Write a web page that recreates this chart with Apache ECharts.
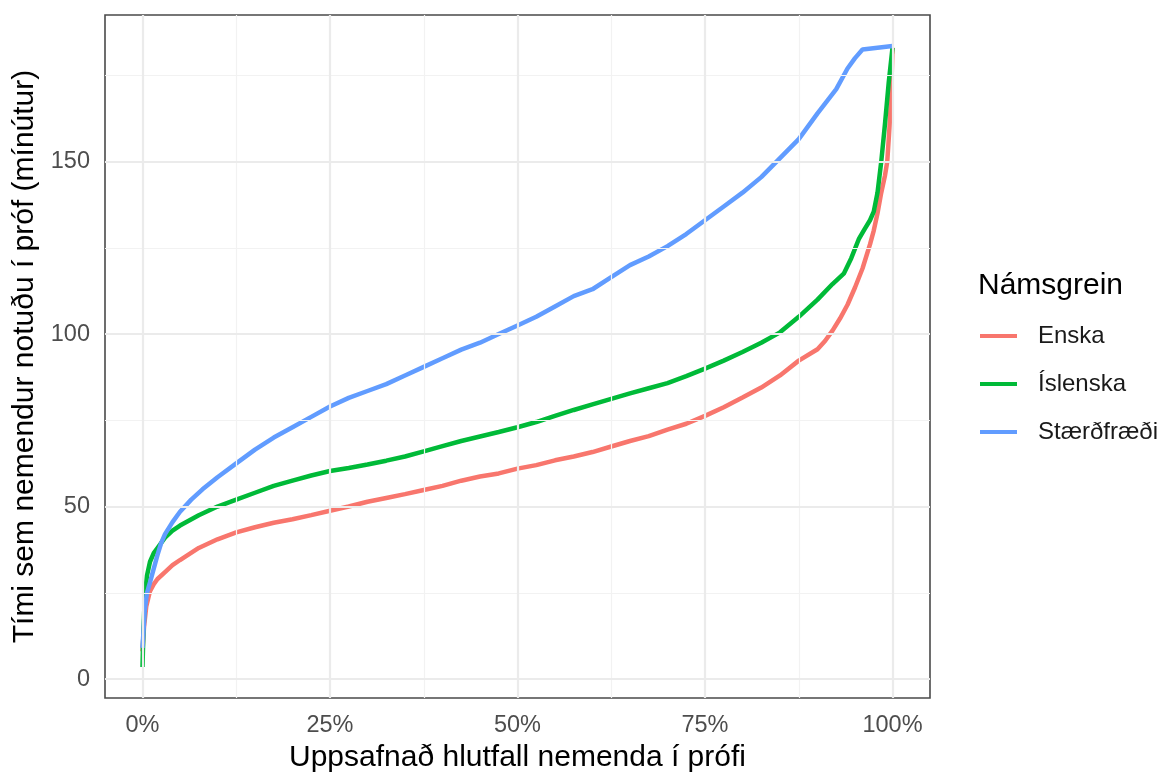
<!DOCTYPE html>
<html>
<head>
<meta charset="utf-8">
<script src="https://cdn.jsdelivr.net/npm/echarts@6/dist/echarts.min.js"></script>
<style>
html,body{margin:0;padding:0;background:#fff;}
#chart{width:1163px;height:778px;}
</style>
</head>
<body>
<div id="chart"></div>
<script>
// Cumulative share of students (%) and minutes used, per subject
const subjects = ['Enska', 'Íslenska', 'Stærðfræði'];
const colors = ['#F8766D', '#00BA38', '#619CFF'];

const enskaX = [0, 0.2, 0.5, 1, 1.5, 2, 3, 4, 5, 7.5, 10, 12.5, 15, 17.5, 20, 22.5, 25, 27.5, 30, 32.5, 35, 37.5, 40, 42.5, 45, 47.5, 50, 52.5, 55, 57.5, 60, 62.5, 65, 67.5, 70, 72.5, 75, 77.5, 80, 82.5, 85, 87.5, 90, 91, 92, 93, 94, 95, 96, 97, 97.5, 98, 98.5, 99, 99.3, 99.6, 99.8, 100];
const enskaY = [8, 15, 21, 25.5, 27.5, 29, 31, 33, 34.5, 38, 40.5, 42.5, 44, 45.3, 46.3, 47.5, 48.8, 50, 51.4, 52.5, 53.6, 54.8, 56, 57.5, 58.7, 59.6, 61, 62, 63.4, 64.5, 65.8, 67.4, 69, 70.4, 72.3, 74, 76.3, 78.8, 81.6, 84.5, 88, 92.3, 95.6, 98, 101, 104.5, 108.5, 113.5, 119, 126, 130, 135, 141, 146, 150, 160, 168, 183];

const islX = [0, 0.1, 0.3, 0.6, 1, 1.5, 2, 3, 4, 5, 7.5, 10, 12.5, 15, 17.5, 20, 22.5, 25, 27.5, 30, 32.5, 35, 37.5, 40, 42.5, 45, 47.5, 50, 52.5, 55, 57.5, 60, 62.5, 65, 67.5, 70, 72.5, 75, 77.5, 80, 82.5, 85, 87.5, 90, 92, 93.5, 94.5, 95.5, 96.3, 97, 97.5, 98, 98.5, 99, 99.5, 100];
const islY = [3.5, 12, 24, 30, 34, 36.5, 38, 41, 43, 44.5, 47.5, 50, 52, 54, 56, 57.5, 59, 60.3, 61.2, 62.2, 63.3, 64.5, 66, 67.5, 69, 70.3, 71.6, 73, 74.5, 76.3, 78, 79.6, 81.2, 82.8, 84.3, 85.8, 87.8, 90, 92.3, 94.8, 97.5, 100.5, 105, 110, 114.5, 117.5, 122, 127.5, 130.5, 133, 135.5, 141, 150, 161, 173, 183];

const staX = [0, 0.3, 0.6, 1, 1.5, 2, 2.5, 3, 4, 5, 6.5, 8, 10, 12.5, 15, 17.5, 20, 22.5, 25, 27.5, 30, 32.5, 35, 37.5, 40, 42.5, 45, 47.5, 50, 52.5, 55, 57.5, 60, 62.5, 65, 67.5, 70, 72.5, 75, 77.5, 80, 82.5, 85, 87.5, 90, 92.5, 94, 95, 96, 100];
const staY = [9, 20, 25, 28, 32, 36, 39.5, 42, 45.5, 48.5, 52, 55, 58.5, 62.5, 66.5, 70, 73, 76, 79, 81.5, 83.5, 85.5, 88, 90.5, 93, 95.5, 97.5, 100, 102.5, 105, 108, 111, 113, 116.5, 120, 122.5, 125.5, 129, 133, 137, 141, 145.5, 151, 156.5, 164, 171, 177, 180, 182.5, 183.5];

const xTicks = [0, 25, 50, 75, 100];
const xMinor = [12.5, 37.5, 62.5, 87.5];
const yTicks = [0, 50, 100, 150];
const yMinor = [25, 75, 125, 175];

const xs = [enskaX, islX, staX];
const ys = [enskaY, islY, staY];

const FONT = '"Liberation Sans", Arial, sans-serif';
const chart = echarts.init(document.getElementById('chart'), null, {renderer: 'canvas'});

const lineSeries = subjects.map((name, i) => ({
  name: name,
  type: 'line',
  data: xs[i].map((x, j) => [x, ys[i][j]]),
  showSymbol: false,
  symbol: 'none',
  smooth: false,
  z: 3,
  lineStyle: {color: colors[i], width: 4.5},
  itemStyle: {color: colors[i]}
}));

const gridLines = [];
xMinor.forEach(v => gridLines.push({xAxis: v, lineStyle: {color: '#F2F2F2', width: 1.2, type: 'solid'}}));
yMinor.forEach(v => gridLines.push({yAxis: v, lineStyle: {color: '#F2F2F2', width: 1.2, type: 'solid'}}));
xTicks.forEach(v => gridLines.push({xAxis: v, lineStyle: {color: '#EBEBEB', width: 2.2, type: 'solid'}}));
yTicks.forEach(v => gridLines.push({yAxis: v, lineStyle: {color: '#EBEBEB', width: 2.2, type: 'solid'}}));

const option = {
  backgroundColor: '#ffffff',
  animation: false,
  textStyle: {fontFamily: FONT},
  title: {
    text: 'Námsgrein',
    left: 973,
    top: 266,
    textStyle: {fontFamily: FONT, fontSize: 30, fontWeight: 'normal', color: '#000'}
  },
  legend: {
    data: subjects,
    orient: 'vertical',
    left: 975,
    top: 319,
    icon: 'rect',
    itemWidth: 37,
    itemHeight: 4,
    itemGap: 24,
    textStyle: {fontFamily: FONT, fontSize: 24, color: '#1a1a1a', lineHeight: 24, padding: [0, 0, 0, 16]}
  },
  grid: {
    left: 105, right: 233, top: 15, bottom: 72,
    show: true, borderColor: '#4a4a4a', borderWidth: 1.6, backgroundColor: 'transparent',
    containLabel: false
  },
  xAxis: {
    type: 'value',
    min: -5, max: 105,
    name: 'Uppsafnað hlutfall nemenda í prófi',
    nameLocation: 'middle',
    nameGap: 45,
    nameTextStyle: {fontFamily: FONT, fontSize: 30, color: '#000', verticalAlign: 'top'},
    axisLine: {show: false},
    axisTick: {show: true, customValues: xTicks, length: 7, lineStyle: {color: '#333', width: 2}},
    axisLabel: {show: true, customValues: xTicks, margin: 16, fontFamily: FONT, fontSize: 23.5, color: '#4D4D4D', formatter: v => v + '%'},
    splitLine: {show: false},
    minorSplitLine: {show: false}
  },
  yAxis: {
    type: 'value',
    min: -5.5, max: 192.5,
    name: 'Tími sem nemendur notuðu í próf (mínútur)',
    nameLocation: 'middle',
    nameRotate: 90,
    nameGap: 64,
    nameTextStyle: {fontFamily: FONT, fontSize: 30, color: '#000'},
    axisLine: {show: false},
    axisTick: {show: true, customValues: yTicks, length: 7, lineStyle: {color: '#333', width: 2}},
    axisLabel: {show: true, customValues: yTicks, margin: 15, fontFamily: FONT, fontSize: 23.5, color: '#4D4D4D'},
    splitLine: {show: false},
    minorSplitLine: {show: false}
  },
  series: [
    {
      name: 'grid',
      type: 'line',
      data: [],
      z: 1,
      silent: true,
      markLine: {
        silent: true,
        symbol: ['none', 'none'],
        label: {show: false},
        animation: false,
        data: gridLines
      }
    }
  ].concat(lineSeries)
};
chart.setOption(option);
</script>
</body>
</html>
